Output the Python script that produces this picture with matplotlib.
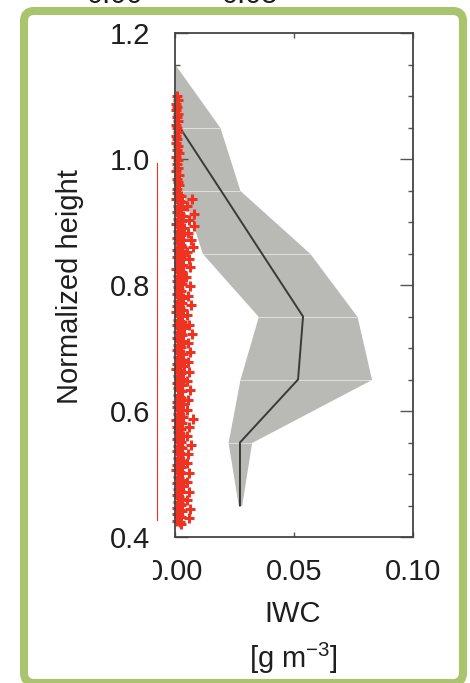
import numpy as np
import matplotlib
matplotlib.use('Agg')
import matplotlib.pyplot as plt
from matplotlib.patches import FancyBboxPatch, Rectangle

plt.rcParams['font.family'] = ['Liberation Sans', 'DejaVu Sans']
plt.rcParams['mathtext.fontset'] = 'custom'
plt.rcParams['mathtext.rm'] = 'Liberation Sans'
plt.rcParams['mathtext.it'] = 'Liberation Sans'
plt.rcParams['mathtext.default'] = 'rm'

# Du lieu profile IWC (trung binh va khoang min-max)
levels = [1.15, 1.05, 0.95, 0.85, 0.75, 0.65, 0.55, 0.45]
band_low = [0.0, 0.0005, 0.0030, 0.0115, 0.0350, 0.0273, 0.0223, 0.0266]
band_high = [0.0, 0.0189, 0.0273, 0.0567, 0.0765, 0.0826, 0.0322, 0.0280]
mean_levels = [1.05, 0.95, 0.85, 0.75, 0.65, 0.55, 0.45]
mean_iwc = [0.0020, 0.0193, 0.0365, 0.0538, 0.0517, 0.0273, 0.0273]

# Diem do (dau + mau do)
red_y_top = [1.100, 1.094, 1.088, 1.083, 1.077, 1.071, 1.066, 1.060, 1.054, 1.049,
             1.043, 1.037, 1.032, 1.026, 1.020, 1.015, 1.009, 1.003, 0.998, 0.992,
             0.986, 0.981, 0.975, 0.969, 0.964, 0.958, 0.952]
red_x_top = [0.0008, 0.0012, 0.0005, 0.0010, 0.0004, 0.0013, 0.0007, 0.0011, 0.0003, 0.0009,
             0.0014, 0.0006, 0.0010, 0.0004, 0.0012, 0.0008, 0.0015, 0.0005, 0.0011, 0.0007,
             0.0013, 0.0004, 0.0016, 0.0009, 0.0012, 0.0018, 0.0010]
red_y_a = [0.946, 0.937, 0.925, 0.916, 0.905, 0.897, 0.886, 0.875, 0.866, 0.856,
           0.845, 0.836, 0.826, 0.815, 0.806, 0.797, 0.786, 0.775, 0.766, 0.757,
           0.745, 0.736, 0.726, 0.716, 0.705, 0.697, 0.686, 0.675, 0.667, 0.656,
           0.645, 0.636, 0.626, 0.615, 0.606, 0.595, 0.586, 0.575, 0.566, 0.556,
           0.545, 0.536, 0.526, 0.515, 0.506, 0.496, 0.485, 0.476, 0.466, 0.455,
           0.446, 0.436, 0.426]
red_x_a = [0.0010, 0.0006, 0.0012, 0.0008, 0.0014, 0.0005, 0.0011, 0.0009, 0.0013, 0.0007,
           0.0010, 0.0015, 0.0006, 0.0012, 0.0009, 0.0011, 0.0007, 0.0013, 0.0010, 0.0006,
           0.0012, 0.0008, 0.0014, 0.0009, 0.0011, 0.0007, 0.0013, 0.0010, 0.0006, 0.0012,
           0.0008, 0.0011, 0.0014, 0.0007, 0.0010, 0.0012, 0.0006, 0.0009, 0.0013, 0.0008,
           0.0011, 0.0007, 0.0012, 0.0010, 0.0006, 0.0013, 0.0009, 0.0011, 0.0008, 0.0012,
           0.0007, 0.0010, 0.0009]
red_y_b = [0.941, 0.931, 0.921, 0.910, 0.901, 0.891, 0.880, 0.871, 0.861, 0.850,
           0.841, 0.831, 0.820, 0.811, 0.801, 0.791, 0.780, 0.771, 0.761, 0.751,
           0.741, 0.731, 0.721, 0.711, 0.701, 0.691, 0.681, 0.671, 0.661, 0.651,
           0.641, 0.631, 0.621, 0.611, 0.601, 0.591, 0.581, 0.571, 0.561, 0.551,
           0.541, 0.531, 0.521, 0.511, 0.501, 0.491, 0.481, 0.471, 0.461, 0.451,
           0.441, 0.431, 0.421]
red_x_b = [0.0024, 0.0031, 0.0027, 0.0035, 0.0029, 0.0038, 0.0026, 0.0033, 0.0030, 0.0036,
           0.0025, 0.0032, 0.0028, 0.0034, 0.0030, 0.0026, 0.0035, 0.0029, 0.0033, 0.0027,
           0.0031, 0.0036, 0.0028, 0.0034, 0.0025, 0.0032, 0.0030, 0.0037, 0.0027, 0.0033,
           0.0029, 0.0031, 0.0026, 0.0035, 0.0028, 0.0032, 0.0030, 0.0024, 0.0034, 0.0027,
           0.0031, 0.0029, 0.0033, 0.0026, 0.0030, 0.0028, 0.0032, 0.0025, 0.0031, 0.0027,
           0.0029, 0.0026, 0.0024]
red_y_d = [0.943, 0.934, 0.923, 0.913, 0.903, 0.894, 0.883, 0.873, 0.864, 0.853,
           0.843, 0.834, 0.823, 0.813, 0.804, 0.793, 0.783, 0.774, 0.763, 0.753,
           0.743, 0.734, 0.723, 0.713, 0.703, 0.694, 0.683, 0.673, 0.664, 0.653,
           0.643, 0.634, 0.623, 0.613, 0.603, 0.594, 0.583, 0.573, 0.564, 0.553,
           0.543, 0.534, 0.523, 0.513, 0.503, 0.494, 0.483, 0.473, 0.464, 0.453,
           0.443, 0.434, 0.424]
red_x_d = [0.0018, 0.0021, 0.0017, 0.0023, 0.0019, 0.0022, 0.0016, 0.0020, 0.0024, 0.0018,
           0.0021, 0.0017, 0.0022, 0.0019, 0.0023, 0.0016, 0.0020, 0.0018, 0.0022, 0.0017,
           0.0021, 0.0019, 0.0024, 0.0018, 0.0020, 0.0016, 0.0022, 0.0019, 0.0021, 0.0017,
           0.0023, 0.0018, 0.0020, 0.0022, 0.0016, 0.0019, 0.0021, 0.0018, 0.0023, 0.0017,
           0.0020, 0.0022, 0.0019, 0.0016, 0.0021, 0.0018, 0.0020, 0.0023, 0.0017, 0.0019,
           0.0021, 0.0018, 0.0020]
red_y_c = [0.936, 0.925, 0.912, 0.903, 0.893, 0.882, 0.872, 0.861, 0.852, 0.842,
           0.828, 0.812, 0.798, 0.783, 0.768, 0.752, 0.737, 0.722, 0.708, 0.693,
           0.678, 0.662, 0.648, 0.633, 0.618, 0.602, 0.588, 0.575, 0.560, 0.546,
           0.532, 0.518, 0.502, 0.488, 0.472, 0.458, 0.444, 0.430]
red_x_c = [0.0070, 0.0052, 0.0078, 0.0060, 0.0080, 0.0055, 0.0068, 0.0074, 0.0050, 0.0058,
           0.0064, 0.0047, 0.0062, 0.0055, 0.0069, 0.0051, 0.0060, 0.0072, 0.0056, 0.0065,
           0.0053, 0.0058, 0.0049, 0.0061, 0.0054, 0.0050, 0.0075, 0.0058, 0.0052, 0.0066,
           0.0055, 0.0049, 0.0060, 0.0052, 0.0057, 0.0050, 0.0062, 0.0058]

# Duong do mong ben trai (tu panel ben canh)
side_line_x = -0.0076
side_line_y = [0.427, 0.994]

x_ticks = [0.0, 0.05, 0.10]
x_ticklabels = ['0.00', '0.05', '0.10']
y_ticks = [0.4, 0.6, 0.8, 1.0, 1.2]
y_ticklabels = ['0.4', '0.6', '0.8', '1.0', '1.2']

W, H = 470, 683
fig = plt.figure(figsize=(W / 100, H / 100), dpi=100)
ax = fig.add_axes([175 / W, 1 - 537 / H, 238 / W, 504 / H])

red = '#ee3322'
gray_band = '#b9bab6'
txt = '#1e1e1e'

# Vung xam
ax.fill_betweenx(levels, band_low, band_high, color=gray_band, lw=0, zorder=1)
ax.hlines(levels[1:-1], band_low[1:-1], band_high[1:-1], color='white', lw=0.7, alpha=0.55, zorder=1.5)
ax.plot(mean_iwc, mean_levels, color='#3a3a3a', lw=1.4, zorder=3)

# Diem do
groups = [(red_x_top, red_y_top), (red_x_a, red_y_a), (red_x_d, red_y_d),
          (red_x_b, red_y_b), (red_x_c, red_y_c)]
for xs, ys in groups:
    ax.plot(xs, ys, '+', color=red, ms=7.5, mew=2.2, ls='none', zorder=4, clip_on=False)

ax.plot([side_line_x, side_line_x], side_line_y, color=red, lw=0.8, clip_on=False)

ax.set_xlim(0, 0.10)
ax.set_ylim(0.4, 1.2)
ax.set_xticks(x_ticks)
ax.set_xticklabels(x_ticklabels)
ax.set_yticks(y_ticks)
ax.set_yticklabels(y_ticklabels)
ax.set_yticks(np.arange(0.45, 1.2, 0.05), minor=True)

ax.tick_params(axis='y', which='major', direction='in', length=9.4, width=1.0, color='#555555',
               right=True, labelsize=21, pad=18, labelcolor=txt)
ax.tick_params(axis='y', which='minor', direction='in', length=3.6, width=1.0, color='#555555', right=True)
ax.tick_params(axis='x', which='major', direction='in', length=3.6, width=1.0, color='#555555',
               top=True, labelsize=21, pad=15, labelcolor=txt)
for sp in ax.spines.values():
    sp.set_color('#444444')
    sp.set_linewidth(1.3)
    sp.set_zorder(5)

# Nhan truc
fig.text(70 / W, 1 - 287 / H, 'Normalized height', rotation=90, ha='center', va='center',
         fontsize=21, color=txt)
fig.text(293 / W, 1 - 600 / H, 'IWC', ha='center', va='top', fontsize=21, color=txt)
fig.text(293 / W, 1 - 641 / H, '[g m$^{-3}$]', ha='center', va='top', fontsize=21, color=txt)

# Che mot phan so 0 dau tien
fig.patches.append(Rectangle((138, H - 588), 15, 36, transform=None, facecolor='white',
                             edgecolor='none', zorder=10))

# Manh chu bi cat o tren cung
fig.text(115 / W, 1 - 3 / H, '0.00', ha='center', va='baseline', fontsize=21, color=txt)
fig.text(250 / W, 1 - 3 / H, '0.05', ha='center', va='baseline', fontsize=21, color=txt)

# Khung vien xanh la
frame = FancyBboxPatch((24, 0), 439, H - 11, boxstyle='round,pad=0,rounding_size=10',
                       transform=None, facecolor='none', edgecolor='#a9c46c', lw=5.8, zorder=11)
fig.patches.append(frame)

plt.savefig('out.png', dpi=100)
plt.close(fig)
